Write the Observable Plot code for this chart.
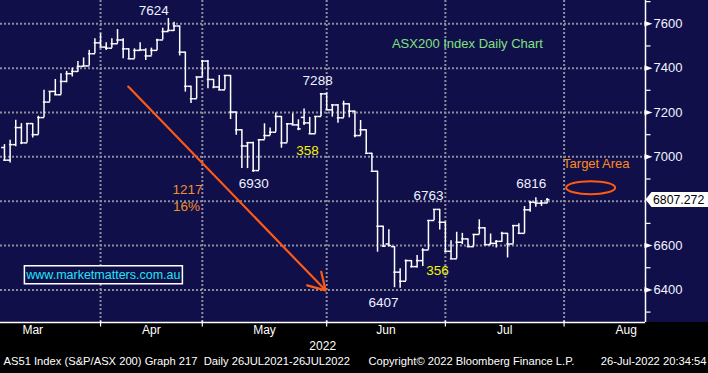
<!DOCTYPE html>
<html><head><meta charset="utf-8">
<script src="https://cdn.jsdelivr.net/npm/d3@7"></script>
<script src="https://cdn.jsdelivr.net/npm/@observablehq/plot@0.6"></script>
<style>html,body{margin:0;padding:0;background:#000;}#chart{width:708px;height:373px;}</style>
</head><body><div id="chart"></div>
<script>
// ---- OHLC data (trading-day index order, 9 Mar 2022 .. 26 Jul 2022) ----
const opens = [7042,6985,7055,7132,7063,7150,7100,7177,7247,7295,7280,7340,7375,7385,7408,7410,7465,
 7514,7495,7490,7510,7527,7487,7442,7480,7482,7455,7480,7527,7565,7570,7590,7472,7318,7262,
 7360,7432,7349,7315,7302,7367,7202,7122,7049,7064,6938,7077,7096,7111,7182,7063,7149,7144,7178,7153,7104,7182,
 7284,7212,7234,7176,7239,7206,7096,7122,7016,6935,6687,6607,6595,6480,6439,6532,6505,6532,6580,6713,6763,
 6705,6574,6540,6615,6630,6595,6650,6680,6604,6610,6619,6655,6607,6690,6655,6761,6795,6791,6792];
const highs = [7055,7075,7165,7150,7150,7150,7183,7300,7295,7349,7375,7385,7400,7430,7446,7480,7532,
 7555,7514,7532,7574,7532,7487,7487,7514,7487,7490,7530,7580,7624,7607,7590,7472,7318,7360,
 7435,7435,7349,7367,7367,7367,7202,7122,7064,7066,7077,7149,7130,7198,7182,7149,7194,7167,7216,7178,7182,7284,
 7288,7236,7236,7251,7239,7206,7164,7122,7016,6935,6687,6671,6595,6495,6535,6532,6555,6585,6713,6763,6763,
 6705,6622,6660,6655,6630,6650,6716,6680,6652,6622,6660,6655,6690,6698,6776,6800,6816,6803,6812];
const lows = [6980,6972,7045,7055,7063,7085,7100,7177,7247,7280,7280,7334,7360,7382,7408,7410,7465,
 7495,7480,7490,7510,7442,7442,7442,7480,7435,7455,7480,7527,7565,7565,7455,7292,7240,7262,
 7360,7307,7307,7302,7302,7168,7097,6947,6947,6930,6938,7077,7096,7111,7039,7063,7144,7118,7141,7104,7104,7182,
 7209,7179,7152,7176,7176,7086,7096,7016,6935,6570,6595,6595,6410,6407,6439,6499,6499,6505,6580,6713,6670,
 6570,6540,6540,6604,6592,6595,6650,6604,6604,6589,6615,6544,6607,6653,6655,6750,6773,6776,6788];
const closes = [6985,7055,7132,7063,7150,7100,7177,7247,7295,7280,7340,7375,7385,7408,7410,7465,7514,
 7495,7490,7510,7527,7487,7442,7480,7482,7455,7480,7527,7565,7570,7590,7472,7318,7262,7360,
 7432,7349,7315,7302,7367,7202,7122,7049,7064,6938,7077,7096,7111,7182,7063,7149,7144,7126,7153,7104,7182,7284,
 7212,7234,7176,7239,7206,7096,7122,7016,6935,6687,6597,6600,6480,6439,6532,6505,6532,6580,6713,6763,6705,
 6574,6540,6615,6630,6595,6650,6680,6604,6610,6619,6655,6607,6690,6655,6761,6795,6791,6792,6807.272];

// ---- axes ----
const monthNames = ["Mar","Apr","May","Jun","Jul","Aug"];
const monthLabelAt = [5, 26, 46, 67.5, 88.5, 110];
const monthStarts = [17, 35, 57, 78, 99];
const yearLabel = "2022";
const yearLabelAt = 56.3;
const gridValues = [6400,6600,6800,7000,7200,7400,7600];
const axisLabelValues = [6400,6600,7000,7200,7400,7600]; // 6800 sits under the last-price tag
const minorTickValues = [6300,6500,6700,6900,7100,7300,7500,7700];
const xDomain = [-0.7, 113.4];
const yDomain = [6253, 7705];

// ---- annotations ----
const peakLabels = ["7624","7288","6930","6407","6763","6816"];
const peakLabelX = [26.4, 55.4, 44.1, 67.05, 75.0, 93.2];
const peakLabelY = [7660, 7344, 6879, 6341, 6825, 6879];
const rangeLabels = ["358","356"];
const rangeLabelX = [53.6, 76.6];
const rangeLabelY = [7028, 6486];
const fallLabels = ["1217","16%"];
const fallLabelX = [32.4, 32.2];
const fallLabelY = [6851, 6776];
const arrowFrom = [21.9, 7317];
const arrowTo = [56.8, 6398];
const targetText = "Target Area";
const targetAt = [104.7, 6969];
const ellipseAt = [103.7, 6861];
const chartTitle = "ASX200 Index Daily Chart";
const titleAt = [81.9, 7511];
const siteText = "www.marketmatters.com.au";
const siteAt = [17.5, 6468];
const footerLeft = "AS51 Index (S&P/ASX 200) Graph 217  Daily 26JUL2021-26JUL2022";
const footerCopy = "Copyright\u00A9 2022 Bloomberg Finance L.P.";
const footerTime = "26-Jul-2022 20:34:54";

const bars = opens.map((o, i) => ({i, o, h: highs[i], l: lows[i], c: closes[i]}));
const last = closes[closes.length - 1];

const F = "Liberation Sans, Arial, sans-serif";
const gridColor = "#8d8d9c";
const navy = "#100f4a";

const triRight = {draw(ctx){ ctx.moveTo(-1,-2.8); ctx.lineTo(7,0); ctx.lineTo(-1,2.8); ctx.closePath(); }};
const minorTick = {draw(ctx){ ctx.moveTo(0,0); ctx.lineTo(5,0); }};
const monthTick = {draw(ctx){ ctx.moveTo(0,-2); ctx.lineTo(0,4); }};
const ellipse = {draw(ctx){
  const rx = 24.5, ry = 6.5, k = 0.5523;
  ctx.moveTo(rx,0);
  ctx.bezierCurveTo(rx,k*ry,k*rx,ry,0,ry);
  ctx.bezierCurveTo(-k*rx,ry,-rx,k*ry,-rx,0);
  ctx.bezierCurveTo(-rx,-k*ry,-k*rx,-ry,0,-ry);
  ctx.bezierCurveTo(k*rx,-ry,rx,-k*ry,rx,0);
  ctx.closePath();
}};
const siteBox = {draw(ctx){ ctx.rect(-79,-9,158,18); }};
const priceTag = {draw(ctx){ ctx.moveTo(0,0); ctx.lineTo(6,-7.5); ctx.lineTo(64,-7.5); ctx.lineTo(64,7.5); ctx.lineTo(6,7.5); ctx.closePath(); }};

const plot = Plot.plot({
  width: 708, height: 373,
  marginTop: 0, marginRight: 63, marginBottom: 51, marginLeft: 0,
  x: {domain: xDomain, axis: null},
  y: {domain: yDomain, axis: null},
  style: {background: `linear-gradient(${navy} 0 322px, #000 322px 100%)`, color: "white", fontFamily: F, overflow: "visible"},
  marks: [
    Plot.ruleY(gridValues, {y: d => d, stroke: gridColor, strokeWidth: 2, strokeDasharray: "2,2"}),
    Plot.ruleX(monthStarts, {x: d => d, stroke: gridColor, strokeWidth: 2, strokeDasharray: "2,2"}),
    Plot.ruleX([xDomain[1]], {x: d => d, stroke: "white", strokeWidth: 1.5}),
    Plot.ruleY([yDomain[0]], {y: d => d, stroke: "white", strokeWidth: 1.5}),
    Plot.dot(minorTickValues, {y: d => d, frameAnchor: "right", symbol: minorTick, stroke: "white", fill: "none", strokeWidth: 1.2}),
    Plot.dot(axisLabelValues, {y: d => d, frameAnchor: "right", symbol: triRight, fill: "white", stroke: "none"}),
    Plot.text(axisLabelValues, {y: d => d, text: d => String(d), frameAnchor: "right", dx: 8, textAnchor: "start", fill: "#f2f4ff", fontSize: 13, fontFamily: F}),
    Plot.dot(monthStarts, {x: d => d, frameAnchor: "bottom", symbol: monthTick, stroke: "white", fill: "none", strokeWidth: 1.2}),
    Plot.text(monthNames, {x: (d, i) => monthLabelAt[i], text: d => d, frameAnchor: "bottom", dy: 11, fill: "white", fontSize: 12, fontFamily: F}),
    Plot.text([yearLabel], {x: () => yearLabelAt, text: d => d, frameAnchor: "bottom", dy: 27, fill: "white", fontSize: 12, fontFamily: F}),
    Plot.text([footerLeft], {text: d => d, frameAnchor: "bottom-left", dx: 3, dy: 42, textAnchor: "start", fill: "white", fontSize: 11.2, fontFamily: F}),
    Plot.text([footerCopy], {text: d => d, frameAnchor: "bottom-left", dx: 368, dy: 42, textAnchor: "start", fill: "white", fontSize: 11.2, fontFamily: F}),
    Plot.text([footerTime], {text: d => d, frameAnchor: "bottom-right", dx: 61, dy: 42, textAnchor: "end", fill: "white", fontSize: 11.2, fontFamily: F}),
    // OHLC bars
    Plot.ruleX(bars, {x: "i", y1: "l", y2: "h", stroke: "white", strokeWidth: 1.5}),
    Plot.ruleY(bars, {y: "o", x1: d => d.i - 0.5, x2: d => d.i + 0.12, stroke: "white", strokeWidth: 1.5}),
    Plot.ruleY(bars, {y: "c", x1: d => d.i - 0.12, x2: d => d.i + 0.5, stroke: "white", strokeWidth: 1.5}),
    // annotations
    Plot.arrow([0], {x1: () => arrowFrom[0], y1: () => arrowFrom[1], x2: () => arrowTo[0], y2: () => arrowTo[1], stroke: "#ff5a14", strokeWidth: 2.2, headLength: 13, headAngle: 62}),
    Plot.text(peakLabels, {x: (d, i) => peakLabelX[i], y: (d, i) => peakLabelY[i], text: d => d, fill: "#eef2ff", fontSize: 13.5, fontFamily: F}),
    Plot.text(rangeLabels, {x: (d, i) => rangeLabelX[i], y: (d, i) => rangeLabelY[i], text: d => d, fill: "#f6f600", fontSize: 13.5, fontFamily: F}),
    Plot.text(fallLabels, {x: (d, i) => fallLabelX[i], y: (d, i) => fallLabelY[i], text: d => d, fill: "#f09028", fontSize: 13.5, fontFamily: F}),
    Plot.text([targetText], {x: () => targetAt[0], y: () => targetAt[1], text: d => d, fill: "#ff8a1e", fontSize: 13, fontFamily: F}),
    Plot.dot([0], {x: () => ellipseAt[0], y: () => ellipseAt[1], symbol: ellipse, stroke: "#ff5a10", fill: "none", strokeWidth: 2}),
    Plot.text([chartTitle], {x: () => titleAt[0], y: () => titleAt[1], text: d => d, fill: "#80e080", fontSize: 13, fontFamily: F}),
    Plot.dot([0], {x: () => siteAt[0], y: () => siteAt[1], symbol: siteBox, stroke: "white", fill: navy, strokeWidth: 1.5}),
    Plot.text([siteText], {x: () => siteAt[0], y: () => siteAt[1], text: d => d, fill: "#22e4f4", fontSize: 12.5, fontFamily: F}),
    // last price tag
    Plot.dot([last], {y: d => d, frameAnchor: "right", symbol: priceTag, fill: "white", stroke: "none"}),
    Plot.text([last], {y: d => d, text: d => d3.format(".3f")(d), frameAnchor: "right", dx: 7.5, textAnchor: "start", fill: "black", fontSize: 12.3, fontFamily: F})
  ]
});
document.getElementById("chart").appendChild(plot);
</script>
</body></html>
